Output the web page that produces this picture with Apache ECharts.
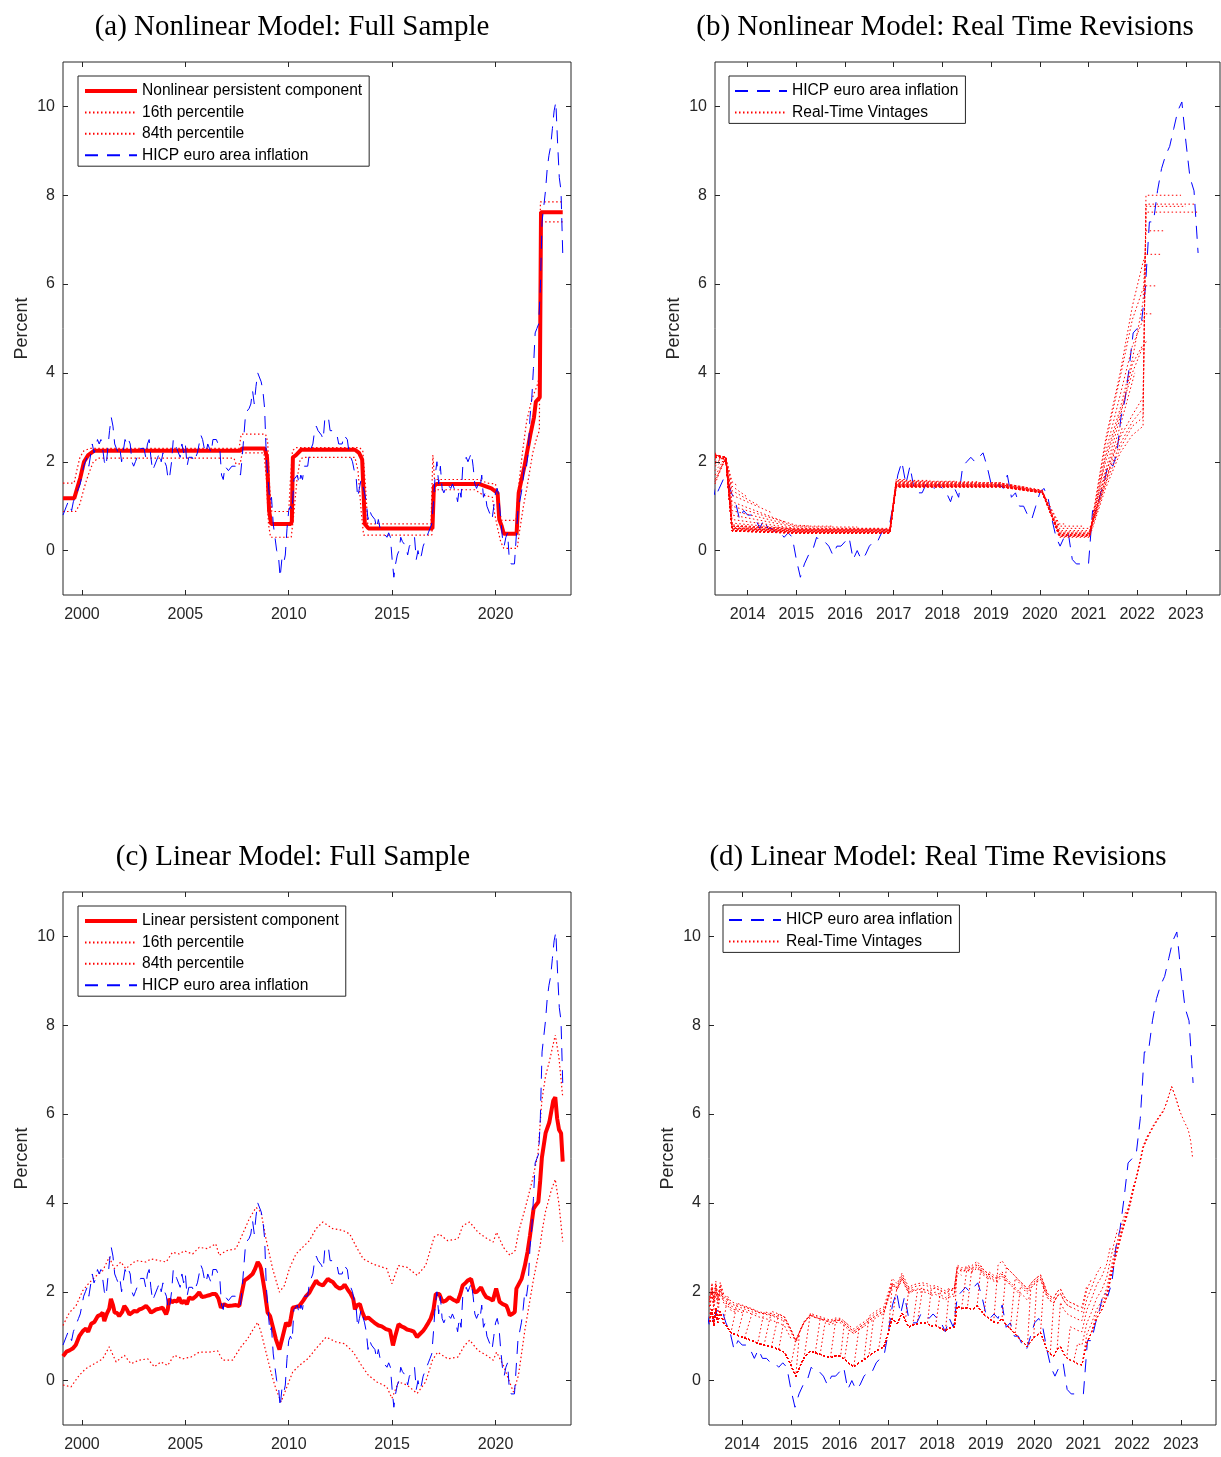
<!DOCTYPE html>
<html>
<head>
<meta charset="utf-8">
<script src="https://cdn.jsdelivr.net/npm/echarts@6/dist/echarts.min.js"></script>
<style>
  html, body { margin: 0; padding: 0; background: #fff; }
  #main { width: 1221px; height: 1457px; }
</style>
</head>
<body>
<div id="main"></div>
<script>
// HICP euro area inflation, monthly, Jan 1999 .. Mar 2023 (x = year + month/12)
const hicp = [
  0.8, 0.8, 1.0, 1.1, 1.0, 0.9, 1.1, 1.2, 1.2, 1.4, 1.5, 1.7,
  1.9, 2.0, 2.1, 1.9, 1.9, 2.4, 2.2, 2.3, 2.5, 2.4, 2.5, 2.3,
  2.0, 1.9, 2.3, 2.7, 3.0, 2.8, 2.4, 2.3, 2.2, 2.3, 2.0, 2.0,
  2.5, 2.4, 2.5, 2.4, 2.0, 1.9, 2.0, 2.1, 2.1, 2.3, 2.3, 2.3,
  2.1, 2.4, 2.5, 2.1, 1.8, 1.9, 1.9, 2.1, 2.2, 2.0, 2.2, 2.0,
  1.9, 1.6, 1.7, 2.0, 2.5, 2.4, 2.3, 2.3, 2.1, 2.4, 2.2, 2.4,
  1.9, 2.1, 2.1, 2.1, 2.0, 2.1, 2.2, 2.2, 2.6, 2.5, 2.3, 2.2,
  2.4, 2.3, 2.2, 2.5, 2.5, 2.5, 2.4, 2.3, 1.7, 1.6, 1.9, 1.9,
  1.8, 1.8, 1.9, 1.9, 1.9, 1.9, 1.8, 1.7, 2.1, 2.6, 3.1, 3.1,
  3.2, 3.3, 3.6, 3.3, 3.7, 4.0, 4.0, 3.8, 3.6, 3.2, 2.1, 1.6,
  1.1, 1.2, 0.6, 0.6, 0.0, -0.1, -0.6, -0.2, -0.3, -0.1, 0.5, 0.9,
  1.0, 0.9, 1.6, 1.6, 1.7, 1.5, 1.7, 1.6, 1.9, 1.9, 1.9, 2.2,
  2.3, 2.4, 2.7, 2.8, 2.7, 2.7, 2.6, 2.5, 3.0, 3.0, 3.0, 2.7,
  2.7, 2.7, 2.7, 2.6, 2.4, 2.4, 2.4, 2.6, 2.6, 2.5, 2.2, 2.2,
  2.0, 1.8, 1.7, 1.2, 1.4, 1.6, 1.6, 1.3, 1.1, 0.7, 0.9, 0.8,
  0.8, 0.7, 0.5, 0.7, 0.5, 0.5, 0.4, 0.4, 0.3, 0.4, 0.3, -0.2,
  -0.6, -0.3, -0.1, 0.0, 0.3, 0.2, 0.2, 0.1, -0.1, 0.1, 0.1, 0.2,
  0.3, -0.2, 0.0, -0.2, -0.1, 0.1, 0.2, 0.2, 0.4, 0.5, 0.6, 1.1,
  1.7, 2.0, 1.5, 1.9, 1.4, 1.3, 1.3, 1.5, 1.5, 1.4, 1.5, 1.4,
  1.3, 1.1, 1.4, 1.2, 1.9, 2.0, 2.1, 2.0, 2.1, 2.2, 1.9, 1.5,
  1.4, 1.5, 1.4, 1.7, 1.2, 1.3, 1.0, 1.0, 0.8, 0.7, 1.0, 1.3,
  1.4, 1.2, 0.7, 0.3, 0.1, 0.3, 0.4, -0.2, -0.3, -0.3, -0.3, -0.3,
  0.9, 0.9, 1.3, 1.6, 2.0, 1.9, 2.2, 3.0, 3.4, 4.1, 4.9, 5.0,
  5.1, 5.9, 7.4, 7.4, 8.1, 8.6, 8.9, 9.1, 9.5, 9.9, 10.1, 9.2,
  8.4, 8.1, 6.7
];

// (a) nonlinear persistent component and bands, [year, percent]
const nlComp = [[1999.083,1.18],[1999.63,1.18],[1999.8,1.45],[1999.92,1.64],[2000.0,1.66],[2000.1,2.0],[2000.3,2.15],[2000.6,2.25],[2007.65,2.25],[2007.75,2.3],[2008.84,2.3],[2008.95,2.1],[2009.05,0.9],[2009.15,0.6],[2010.1,0.6],[2010.15,0.65],[2010.2,2.1],[2010.35,2.15],[2010.6,2.27],[2013.2,2.27],[2013.4,2.2],[2013.55,2.05],[2013.68,0.6],[2013.85,0.5],[2016.95,0.5],[2017.02,1.45],[2017.15,1.5],[2019.2,1.5],[2019.5,1.45],[2019.8,1.4],[2020.0,1.33],[2020.1,1.3],[2020.18,0.7],[2020.3,0.55],[2020.4,0.38],[2021.02,0.38],[2021.12,1.3],[2021.4,1.9],[2021.68,2.6],[2021.86,3.0],[2021.95,3.35],[2022.14,3.45],[2022.2,7.62],[2023.25,7.62]];
const nlUp = [[1999.083,1.52],[1999.62,1.52],[1999.75,1.8],[1999.9,2.1],[2000.1,2.25],[2000.4,2.3],[2007.6,2.3],[2007.7,2.62],[2008.88,2.62],[2008.98,2.45],[2009.08,1.4],[2009.18,0.88],[2010.0,0.88],[2010.08,1.6],[2010.18,2.25],[2010.35,2.32],[2013.42,2.32],[2013.58,2.25],[2013.72,1.4],[2013.82,0.6],[2016.88,0.6],[2016.97,2.15],[2017.05,1.6],[2019.2,1.6],[2019.6,1.52],[2020.0,1.5],[2020.08,1.2],[2020.2,0.85],[2020.3,0.68],[2021.0,0.68],[2021.08,1.3],[2021.3,2.2],[2021.5,2.9],[2021.75,3.4],[2022.0,3.7],[2022.12,3.9],[2022.17,7.85],[2023.25,7.85]];
const nlLo = [[1999.083,0.88],[1999.7,0.88],[1999.9,1.05],[2000.1,1.4],[2000.3,1.7],[2000.55,2.0],[2000.8,2.08],[2007.35,2.08],[2007.45,1.95],[2007.65,1.95],[2007.75,2.2],[2008.8,2.2],[2008.92,1.6],[2009.02,0.6],[2009.12,0.3],[2010.12,0.3],[2010.25,0.85],[2010.4,1.6],[2010.55,2.05],[2010.7,2.1],[2013.2,2.1],[2013.35,1.8],[2013.5,0.9],[2013.62,0.35],[2016.92,0.35],[2017.0,1.2],[2017.1,1.37],[2019.0,1.37],[2019.4,1.25],[2019.85,1.2],[2019.95,0.85],[2020.1,0.5],[2020.25,0.2],[2020.4,0.05],[2021.05,0.05],[2021.15,0.4],[2021.35,1.0],[2021.55,1.5],[2021.8,2.2],[2022.0,2.55],[2022.12,2.7],[2022.18,7.4],[2023.25,7.4]];

// (b) nonlinear real-time vintages: end date, level at each knot, last value
const nlKnots = [2013.33, 2013.55, 2013.68, 2015.0, 2016.92, 2017.05, 2019.2, 2020.05, 2020.4, 2021.02, 2021.35, 2021.65, 2021.9, 2022.12, 2022.18];
const nlEnd = [2013.42,2013.5,2013.6,2013.8,2014.0,2014.25,2014.5,2014.75,2015.25,2015.75,2016.25,2016.75,2017.25,2017.75,2018.25,2018.75,2019.25,2019.75,2020.15,2020.5,2020.9,2021.2,2021.45,2021.7,2021.95,2022.1,2022.23,2022.3,2022.42,2022.5,2022.58,2022.9,2023.0,2023.18,2023.25];
const nlA0 = [2.05,1.95,2.2,2.15,2.1,1.9,1.8,1.7,1.6,1.55,1.5,2.0,2.1,2.15,2.1,2.15,2.1,2.15,2.1,2.1,2.15,2.1,2.1,2.15,2.1,2.1,2.15,2.1,2.1,2.15,2.1,2.15,2.1,2.15,2.15];
const nlA1 = [null,null,2.0,2.1,2.1,2.05,2.05,2.05,2.05,2.1,2.1,2.1,2.1,2.1,2.1,2.1,2.1,2.1,2.1,2.1,2.1,2.1,2.1,2.1,2.1,2.1,2.1,2.1,2.1,2.1,2.1,2.05,2.05,2.05,2.05];
const nlA2 = [null,null,null,1.55,1.45,1.35,1.25,1.1,1.0,0.9,0.8,0.7,0.62,0.58,0.55,0.52,0.5,0.5,0.48,0.47,0.46,0.45,0.45,0.45,0.44,0.44,0.44,0.44,0.44,0.44,0.45,0.5,0.5,0.55,0.55];
const nlA3 = [null,null,null,null,null,null,null,null,0.57,0.55,0.53,0.5,0.48,0.47,0.46,0.45,0.44,0.43,0.42,0.42,0.41,0.4,0.4,0.4,0.39,0.39,0.39,0.39,0.4,0.4,0.41,0.44,0.46,0.48,0.5];
const nlA5 = [null,null,null,null,null,null,null,null,null,null,null,null,1.6,1.58,1.56,1.55,1.53,1.52,1.5,1.49,1.48,1.47,1.46,1.45,1.45,1.44,1.44,1.43,1.43,1.43,1.44,1.46,1.48,1.5,1.52];
const nlA6 = [null,null,null,null,null,null,null,null,null,null,null,null,null,null,null,null,null,null,1.35,1.33,1.32,1.31,1.3,1.3,1.3,1.3,1.3,1.3,1.3,1.3,1.32,1.33,1.34,1.35,1.36];
const nlA7 = [null,null,null,null,null,null,null,null,null,null,null,null,null,null,null,null,null,null,null,0.6,0.55,0.5,0.45,0.42,0.4,0.38,0.36,0.35,0.34,0.33,0.32,0.3,0.32,0.35,0.38];
const nlF1 = [null,null,null,null,null,null,null,null,null,null,null,null,null,null,null,null,null,null,null,null,null,null,1.5,1.6,1.7,1.8,2.0,2.2,2.4,2.5,2.1,1.4,1.5,1.6,1.75];
const nlF2 = [null,null,null,null,null,null,null,null,null,null,null,null,null,null,null,null,null,null,null,null,null,null,null,2.6,2.8,3.0,3.1,3.5,3.9,4.0,3.2,2.2,2.3,2.4,2.55];
const nlF3 = [null,null,null,null,null,null,null,null,null,null,null,null,null,null,null,null,null,null,null,null,null,null,null,null,3.8,4.2,4.0,4.6,5.2,5.5,4.3,2.6,2.8,2.9,3.05];
const nlF4 = [null,null,null,null,null,null,null,null,null,null,null,null,null,null,null,null,null,null,null,null,null,null,null,null,null,null,4.6,5.2,5.9,6.5,5.6,2.8,3.0,3.2,3.45];
const nlHi = [null,null,null,null,null,null,null,null,null,null,null,null,null,null,null,null,null,null,null,null,null,null,null,null,null,null,4.7,5.33,5.96,6.67,7.2,8.0,7.75,7.8,7.62];
const nlLast = [2.2,2.1,1.85,1.45,1.2,1.0,0.85,0.65,0.56,0.55,0.53,0.5,1.6,1.58,1.56,1.55,1.53,1.42,1.1,0.6,0.55,0.95,1.9,2.8,4.0,4.6,4.7,5.33,5.96,6.67,7.2,8.0,7.75,7.8,7.62];

// (c) linear persistent component and bands
const linComp = [[1999.083,0.55],[1999.25,0.65],[1999.4,0.68],[1999.55,0.72],[1999.7,0.8],[1999.87,1.0],[2000.05,1.12],[2000.19,1.17],[2000.3,1.1],[2000.45,1.28],[2000.6,1.32],[2000.76,1.45],[2000.9,1.48],[2001.0,1.53],[2001.08,1.34],[2001.2,1.5],[2001.32,1.62],[2001.4,1.84],[2001.5,1.7],[2001.58,1.53],[2001.7,1.52],[2001.8,1.45],[2001.95,1.55],[2002.05,1.68],[2002.15,1.62],[2002.29,1.49],[2002.4,1.52],[2002.53,1.57],[2002.65,1.55],[2002.77,1.6],[2002.9,1.62],[2003.1,1.68],[2003.22,1.62],[2003.34,1.53],[2003.45,1.56],[2003.58,1.6],[2003.75,1.62],[2003.9,1.64],[2004.07,1.49],[2004.15,1.6],[2004.22,1.84],[2004.35,1.76],[2004.46,1.8],[2004.6,1.78],[2004.7,1.87],[2004.82,1.74],[2004.95,1.8],[2005.07,1.72],[2005.19,1.87],[2005.35,1.84],[2005.51,1.9],[2005.67,1.99],[2005.8,1.88],[2005.99,1.9],[2006.15,1.92],[2006.3,1.95],[2006.47,1.95],[2006.6,1.85],[2006.72,1.64],[2006.88,1.72],[2007.05,1.68],[2007.28,1.69],[2007.45,1.7],[2007.61,1.68],[2007.72,1.95],[2007.85,2.25],[2008.0,2.3],[2008.09,2.32],[2008.25,2.4],[2008.38,2.52],[2008.5,2.67],[2008.6,2.6],[2008.66,2.52],[2008.82,2.07],[2008.98,1.53],[2009.1,1.45],[2009.22,1.23],[2009.38,0.93],[2009.55,0.7],[2009.63,0.85],[2009.71,1.0],[2009.87,1.3],[2010.03,1.23],[2010.1,1.4],[2010.19,1.64],[2010.35,1.66],[2010.51,1.68],[2010.7,1.8],[2010.84,1.9],[2011.0,1.98],[2011.16,2.12],[2011.32,2.25],[2011.45,2.18],[2011.65,2.14],[2011.89,2.29],[2012.0,2.25],[2012.13,2.22],[2012.3,2.12],[2012.46,2.07],[2012.6,2.1],[2012.7,2.16],[2012.85,2.05],[2013.0,1.95],[2013.12,1.84],[2013.2,1.6],[2013.3,1.7],[2013.44,1.72],[2013.55,1.55],[2013.69,1.39],[2013.85,1.42],[2014.0,1.36],[2014.15,1.3],[2014.34,1.24],[2014.5,1.22],[2014.7,1.16],[2014.9,1.13],[2015.04,0.79],[2015.15,1.0],[2015.31,1.27],[2015.45,1.22],[2015.56,1.2],[2015.72,1.15],[2015.89,1.13],[2016.05,1.1],[2016.2,0.98],[2016.37,1.06],[2016.5,1.12],[2016.62,1.2],[2016.75,1.3],[2016.86,1.39],[2017.0,1.6],[2017.11,1.95],[2017.2,1.98],[2017.28,1.95],[2017.44,1.77],[2017.6,1.8],[2017.77,1.88],[2017.95,1.82],[2018.05,1.8],[2018.16,1.77],[2018.3,1.95],[2018.41,2.14],[2018.55,2.2],[2018.65,2.25],[2018.82,2.29],[2018.98,1.99],[2019.1,2.0],[2019.3,2.1],[2019.45,1.95],[2019.55,1.88],[2019.7,1.85],[2019.87,1.8],[2020.03,2.07],[2020.1,1.95],[2020.2,1.77],[2020.35,1.72],[2020.52,1.69],[2020.6,1.6],[2020.69,1.47],[2020.8,1.5],[2020.93,1.54],[2021.01,2.07],[2021.1,2.1],[2021.26,2.29],[2021.42,2.59],[2021.55,2.9],[2021.67,3.27],[2021.84,3.87],[2021.95,3.95],[2022.07,4.02],[2022.16,4.5],[2022.24,5.01],[2022.42,5.57],[2022.6,5.81],[2022.79,6.3],[2022.89,6.38],[2022.98,5.9],[2023.07,5.65],[2023.17,5.57],[2023.25,4.93]];
const linUp = [[1999.083,1.24],[1999.39,1.53],[1999.71,1.68],[2000.03,2.02],[2000.35,2.2],[2000.67,2.35],[2001.0,2.47],[2001.32,2.78],[2001.56,2.52],[2001.88,2.67],[2002.12,2.52],[2002.61,2.7],[2003.1,2.67],[2003.34,2.74],[2003.74,2.7],[2004.07,2.67],[2004.38,2.89],[2004.7,2.85],[2004.95,2.92],[2005.35,2.85],[2005.67,3.0],[2006.07,2.97],[2006.47,3.08],[2006.64,2.82],[2006.96,2.92],[2007.45,2.97],[2007.77,3.3],[2008.09,3.64],[2008.42,3.9],[2008.66,3.79],[2008.9,3.19],[2009.22,2.52],[2009.55,1.99],[2009.79,2.14],[2010.03,2.52],[2010.35,2.85],[2010.67,3.0],[2011.0,3.15],[2011.32,3.42],[2011.65,3.57],[2012.13,3.42],[2012.62,3.38],[2012.95,3.3],[2013.28,3.0],[2013.6,2.74],[2014.09,2.62],[2014.74,2.52],[2014.99,2.18],[2015.31,2.59],[2015.72,2.55],[2016.21,2.37],[2016.62,2.59],[2017.03,3.23],[2017.28,3.3],[2017.69,3.15],[2018.18,3.19],[2018.42,3.49],[2018.75,3.57],[2019.15,3.34],[2019.48,3.23],[2019.89,3.12],[2020.05,3.34],[2020.38,3.0],[2020.7,2.82],[2020.95,2.93],[2021.11,3.34],[2021.43,3.87],[2021.76,4.47],[2022.05,5.09],[2022.24,6.3],[2022.42,6.86],[2022.6,7.18],[2022.89,7.78],[2023.07,7.26],[2023.25,6.38]];
const linLo = [[1999.083,-0.1],[1999.47,-0.14],[1999.87,0.12],[2000.19,0.27],[2000.6,0.38],[2001.0,0.49],[2001.32,0.76],[2001.65,0.42],[2002.05,0.57],[2002.37,0.38],[2002.77,0.46],[2003.18,0.49],[2003.5,0.31],[2003.82,0.42],[2004.14,0.34],[2004.46,0.57],[2004.87,0.49],[2005.27,0.53],[2005.67,0.64],[2006.15,0.64],[2006.56,0.67],[2006.8,0.46],[2007.28,0.46],[2007.69,0.76],[2008.01,0.94],[2008.25,1.13],[2008.5,1.31],[2008.66,1.09],[2008.9,0.64],[2009.14,0.19],[2009.38,-0.19],[2009.63,-0.48],[2009.87,-0.19],[2010.19,0.19],[2010.51,0.34],[2010.92,0.49],[2011.32,0.72],[2011.81,0.98],[2012.29,0.87],[2012.7,0.83],[2013.12,0.64],[2013.52,0.34],[2013.85,0.12],[2014.26,-0.03],[2014.74,-0.14],[2014.99,-0.4],[2015.31,-0.03],[2015.72,-0.1],[2016.21,-0.29],[2016.62,-0.03],[2016.95,0.46],[2017.2,0.64],[2017.69,0.49],[2018.18,0.53],[2018.5,0.79],[2018.75,0.91],[2019.15,0.68],[2019.56,0.57],[2019.89,0.46],[2020.05,0.64],[2020.38,0.34],[2020.62,0.04],[2020.87,-0.26],[2021.11,0.12],[2021.43,1.17],[2021.84,2.29],[2022.16,3.04],[2022.24,3.33],[2022.42,3.81],[2022.7,4.29],[2022.89,4.53],[2023.07,3.97],[2023.25,3.13]];

// (d) linear real-time vintages: final path, vintage end dates and end-of-sample offsets
const linFinal = [[2013.33,1.32],[2013.38,1.6],[2013.42,1.25],[2013.46,1.64],[2013.5,1.3],[2013.55,1.56],[2013.62,1.3],[2013.7,1.2],[2013.77,1.08],[2013.9,1.02],[2014.05,0.96],[2014.2,0.9],[2014.32,0.84],[2014.45,0.8],[2014.6,0.76],[2014.75,0.7],[2014.87,0.63],[2015.0,0.35],[2015.1,0.1],[2015.18,0.3],[2015.27,0.51],[2015.4,0.67],[2015.5,0.62],[2015.6,0.59],[2015.7,0.55],[2015.81,0.51],[2015.92,0.56],[2016.02,0.55],[2016.1,0.48],[2016.19,0.39],[2016.29,0.31],[2016.4,0.4],[2016.5,0.47],[2016.6,0.55],[2016.7,0.63],[2016.8,0.7],[2016.91,0.76],[2017.0,1.1],[2017.08,1.4],[2017.18,1.28],[2017.28,1.52],[2017.35,1.35],[2017.42,1.2],[2017.5,1.25],[2017.59,1.28],[2017.7,1.3],[2017.8,1.28],[2017.88,1.22],[2017.97,1.24],[2018.07,1.18],[2018.17,1.12],[2018.25,1.18],[2018.35,1.2],[2018.41,1.68],[2018.5,1.62],[2018.62,1.64],[2018.72,1.6],[2018.82,1.68],[2018.9,1.58],[2018.96,1.48],[2019.06,1.4],[2019.16,1.32],[2019.25,1.3],[2019.33,1.4],[2019.42,1.25],[2019.5,1.16],[2019.6,1.05],[2019.71,0.92],[2019.78,0.85],[2019.85,0.76],[2019.92,0.88],[2019.98,0.96],[2020.05,1.02],[2020.12,1.08],[2020.19,0.88],[2020.26,0.67],[2020.32,0.6],[2020.39,0.55],[2020.46,0.7],[2020.53,0.76],[2020.6,0.6],[2020.66,0.51],[2020.73,0.46],[2020.8,0.43],[2020.88,0.38],[2020.97,0.35],[2021.07,0.84],[2021.17,1.1],[2021.27,1.4],[2021.38,1.6],[2021.48,1.88],[2021.55,2.25],[2021.62,2.6],[2021.7,2.95],[2021.79,3.33],[2021.88,3.65],[2021.96,3.97],[2022.03,4.3],[2022.1,4.61],[2022.17,4.95],[2022.23,5.25],[2022.33,5.5],[2022.44,5.73],[2022.54,5.9],[2022.64,6.06],[2022.72,6.3],[2022.81,6.62],[2022.9,6.35],[2022.98,6.06],[2023.06,5.85],[2023.15,5.65],[2023.2,5.4],[2023.24,5.01]];
const linEnd = [2013.42,2013.58,2013.75,2013.92,2014.08,2014.25,2014.42,2014.58,2014.75,2014.92,2015.08,2015.25,2015.42,2015.58,2015.75,2015.92,2016.08,2016.25,2016.42,2016.58,2016.75,2016.92,2017.08,2017.25,2017.42,2017.58,2017.75,2017.92,2018.08,2018.25,2018.42,2018.58,2018.75,2018.92,2019.08,2019.25,2019.42,2019.58,2019.75,2019.92,2020.08,2020.25,2020.42,2020.58,2020.75,2020.92,2021.08,2021.25,2021.42,2021.58,2021.75,2021.92,2022.08,2022.4,2022.7,2023.0,2023.25];
const linOff = [0.35,0.35,0.45,0.5,0.55,0.6,0.65,0.7,0.72,0.7,0.6,0.75,0.8,0.8,0.8,0.8,0.82,0.85,0.8,0.75,0.8,0.85,0.75,0.8,0.9,0.8,0.78,0.76,0.85,0.9,0.7,0.75,0.84,0.85,0.88,0.92,0.95,1.0,1.0,1.05,1.3,1.3,1.25,1.2,1.2,1.3,1.3,1.2,1.0,0.75,0.45,0.2,0.1,0.05,0.03,0,0];

const fullTicks = [2000, 2005, 2010, 2015, 2020];
const rtTicks = [2014, 2015, 2016, 2017, 2018, 2019, 2020, 2021, 2022, 2023];
const yTicks = [0, 2, 4, 6, 8, 10];

const RED = '#ff0000', BLUE = '#0000ff', INK = '#262626';
const DASH = [13, 9], DOT = [1.5, 2.5];
const SANS = 'Liberation Sans, Arial, Helvetica, sans-serif';

const hicpPts = hicp.map((v, i) => [1999 + (i + 1) / 12, v]);

function nlVintage(i) {
  const levels = [nlA0, nlA1, nlA2, nlA3, nlA3, nlA5, nlA5, nlA6, nlA7, nlA7, nlF1, nlF2, nlF3, nlF4, nlHi];
  const pts = [];
  nlKnots.forEach((t, j) => { if (t < nlEnd[i]) pts.push([t, levels[j][i]]); });
  pts.push([nlEnd[i], nlLast[i]]);
  return pts;
}
function linVintage(i) {
  // the last year of each vintage sits above the final path
  return linFinal.filter(p => p[0] <= linEnd[i] + 1e-6)
    .map(p => p[0] > linEnd[i] - 0.9 ? [p[0], p[1] + linOff[i]] : p);
}

const grids = [
  { left: 63, top: 62, width: 508, height: 533 },
  { left: 715, top: 62, width: 505, height: 533 },
  { left: 63, top: 892, width: 508, height: 533 },
  { left: 709, top: 892, width: 507, height: 533 }
];
const xRange = [[1999.083, 2023.65, fullTicks], [2013.33, 2023.7, rtTicks], [1999.083, 2023.65, fullTicks], [2013.32, 2023.72, rtTicks]];

const xAxis = [], yAxis = [];
grids.forEach((g, gi) => {
  const [mn, mx, ticks] = xRange[gi];
  const tick = { show: true, inside: true, length: 5, customValues: ticks, lineStyle: { color: INK, width: 1 } };
  const noLine = { show: false, onZero: false };
  xAxis.push({ gridIndex: gi, type: 'value', min: mn, max: mx, position: 'bottom',
    axisLine: noLine, splitLine: { show: false }, axisTick: tick,
    axisLabel: { customValues: ticks, margin: 12, fontSize: 16, color: INK, fontFamily: SANS,
      formatter: v => String(v) } });
  xAxis.push({ gridIndex: gi, type: 'value', min: mn, max: mx, position: 'top',
    axisLine: noLine, splitLine: { show: false }, axisTick: tick, axisLabel: { show: false } });
  const ytick = { show: true, inside: true, length: 5, customValues: yTicks, lineStyle: { color: INK, width: 1 } };
  yAxis.push({ gridIndex: gi, type: 'value', min: -1, max: 11, position: 'left',
    name: 'Percent', nameLocation: 'middle', nameGap: 32,
    nameTextStyle: { fontSize: 18, color: INK, fontFamily: SANS },
    axisLine: noLine, splitLine: { show: false }, axisTick: ytick,
    axisLabel: { customValues: yTicks, margin: 8, fontSize: 16, color: INK, fontFamily: SANS } });
  yAxis.push({ gridIndex: gi, type: 'value', min: -1, max: 11, position: 'right',
    axisLine: noLine, splitLine: { show: false }, axisTick: ytick, axisLabel: { show: false } });
});

function line(gi, name, data, color, width, type) {
  return { type: 'line', name, data, xAxisIndex: gi * 2, yAxisIndex: gi * 2,
    symbol: 'none', showSymbol: false, silent: true, animation: false, clip: true,
    lineStyle: { color, width, type }, itemStyle: { color } };
}

const series = [
  line(0, 'Nonlinear persistent component', nlComp, RED, 4, 'solid'),
  line(0, '16th percentile', nlLo, RED, 1.2, DOT),
  line(0, '84th percentile', nlUp, RED, 1.2, DOT),
  line(0, 'HICP euro area inflation', hicpPts, BLUE, 1, DASH),
  line(1, 'HICP euro area inflation', hicpPts, BLUE, 1, DASH),
  ...nlEnd.map((e, i) => line(1, 'Real-Time Vintages', nlVintage(i), RED, 1, DOT)),
  line(2, 'Linear persistent component', linComp, RED, 4, 'solid'),
  line(2, '16th percentile', linLo, RED, 1.2, DOT),
  line(2, '84th percentile', linUp, RED, 1.2, DOT),
  line(2, 'HICP euro area inflation', hicpPts, BLUE, 1, DASH),
  line(3, 'HICP euro area inflation', hicpPts, BLUE, 1, DASH),
  ...linEnd.map((e, i) => line(3, 'Real-Time Vintages', linVintage(i), RED, 1, DOT))
];

const titleStyle = { fontFamily: 'Liberation Serif, Times New Roman, serif', fontSize: 29, fontWeight: 'normal', color: '#000' };
const title = [
  { text: '(a) Nonlinear Model: Full Sample', left: 287, top: 8, textAlign: 'center', textStyle: titleStyle },
  { text: '(b) Nonlinear Model: Real Time Revisions', left: 940, top: 8, textAlign: 'center', textStyle: titleStyle },
  { text: '(c) Linear Model: Full Sample', left: 288, top: 838, textAlign: 'center', textStyle: titleStyle },
  { text: '(d) Linear Model: Real Time Revisions', left: 933, top: 838, textAlign: 'center', textStyle: titleStyle }
];

function legend(left, top, names) {
  const data = names.map(n => n.indexOf('persistent') >= 0 ? { name: n, lineStyle: { width: 4 } } : n);
  return { left, top, orient: 'vertical', data, selectedMode: false,
    itemWidth: 52, itemHeight: 15, itemGap: 5.4, padding: [7, 7, 3, 5],
    backgroundColor: '#fff', borderColor: INK, borderWidth: 1,
    itemStyle: { opacity: 0 },
    textStyle: { fontSize: 15.6, color: '#000', fontFamily: SANS } };
}
const legends = [
  legend(78, 76, ['Nonlinear persistent component', '16th percentile', '84th percentile', 'HICP euro area inflation']),
  legend(729, 76, ['HICP euro area inflation', 'Real-Time Vintages']),
  legend(78, 906, ['Linear persistent component', '16th percentile', '84th percentile', 'HICP euro area inflation']),
  legend(723, 905, ['HICP euro area inflation', 'Real-Time Vintages'])
];

const chart = echarts.init(document.getElementById('main'), null, { renderer: 'canvas' });
chart.setOption({
  backgroundColor: '#fff',
  animation: false,
  title,
  legend: legends,
  grid: grids.map(g => Object.assign({ show: true, borderColor: INK, borderWidth: 1, backgroundColor: 'transparent' }, g)),
  xAxis,
  yAxis,
  series
});
window.onresize = function() { chart.resize(); };
</script>
</body>
</html>
